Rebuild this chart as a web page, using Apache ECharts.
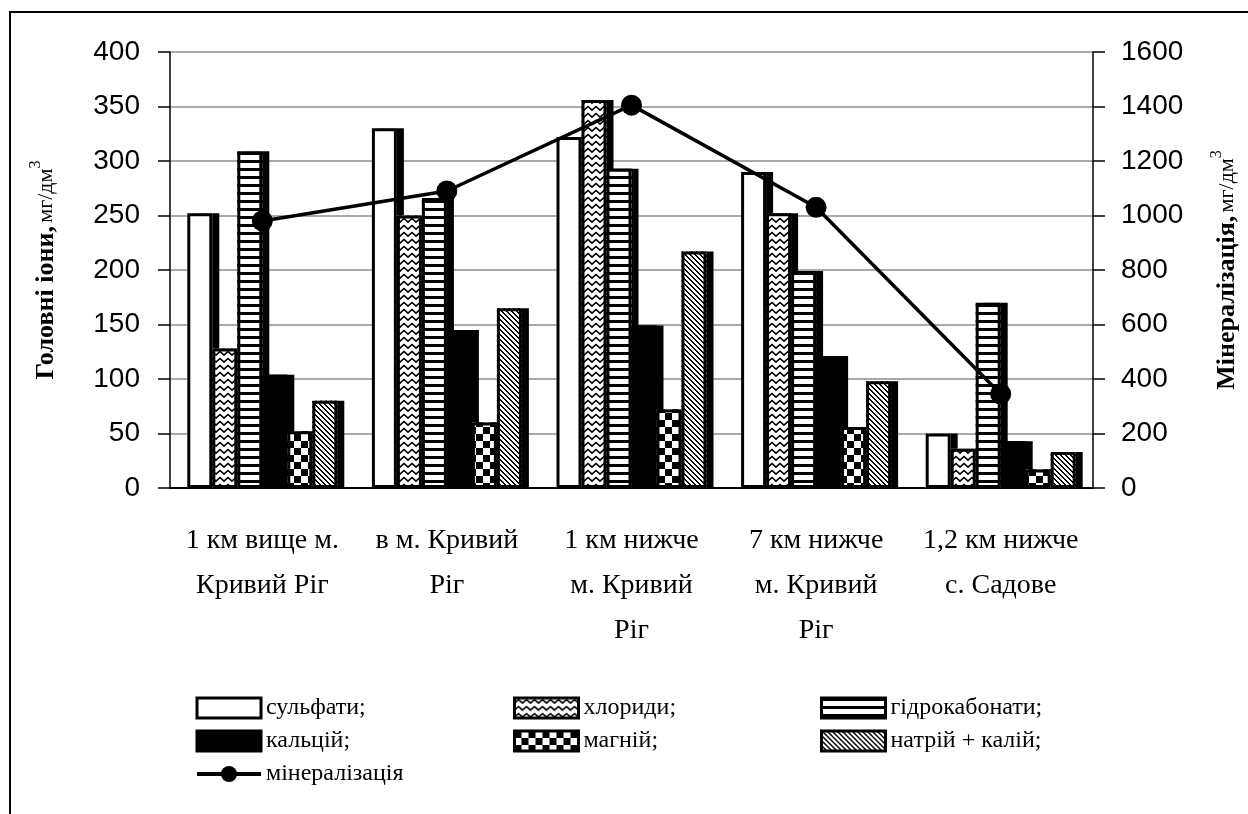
<!DOCTYPE html>
<html>
<head>
<meta charset="utf-8">
<script src="https://cdn.jsdelivr.net/npm/echarts@6/dist/echarts.min.js"></script>
<style>
  html, body { margin: 0; padding: 0; background: #fff; }
  #chart { width: 1248px; height: 814px; }
</style>
</head>
<body>
<div id="chart"></div>
<script>
// підписи категорій (як на рисунку, з переносами)
var categories = ['1 км вище м.\nКривий Ріг', 'в м. Кривий\nРіг', '1 км нижче\nм. Кривий\nРіг', '7 км нижче\nм. Кривий\nРіг', '1,2 км нижче\nс. Садове'];
// головні іони, мг/дм3
var sulfates = [252, 330, 322, 290, 50];
var chlorides = [128, 250, 356, 252, 36];
var bicarbonates = [309, 266, 293, 199, 170];
var calcium = [104, 145, 149, 121, 43];
var magnesium = [52, 60, 72, 56, 17];
var sodiumPotassium = [80, 165, 217, 98, 33];
// мінералізація, мг/дм3
var mineralization = [980, 1090, 1405, 1030, 345];

var leftTicks = { min: 0, max: 400, interval: 50 };
var rightTicks = { min: 0, max: 1600, interval: 200 };

// штрихування для стовпчиків
function makePattern(w, h, draw) {
    var c = document.createElement('canvas');
    c.width = w; c.height = h;
    var ctx = c.getContext('2d');
    ctx.fillStyle = '#fff';
    ctx.fillRect(0, 0, w, h);
    ctx.fillStyle = '#000';
    ctx.strokeStyle = '#000';
    draw(ctx, w, h);
    return { image: c, repeat: 'repeat' };
}
var zigzag = makePattern(8, 7, function (ctx) {
    ctx.lineWidth = 1.6;
    ctx.beginPath();
    ctx.moveTo(-1, 6); ctx.lineTo(4, 1.5); ctx.lineTo(9, 6);
    ctx.stroke();
});
var hstripes = makePattern(8, 8, function (ctx, w) {
    ctx.fillRect(0, 0, w, 3);
});
var checker = makePattern(14, 14, function (ctx) {
    ctx.fillRect(0, 0, 7, 7);
    ctx.fillRect(7, 7, 7, 7);
});
var diag = makePattern(5, 5, function (ctx, w, h) {
    for (var x = 0; x < w; x++) {
        for (var y = 0; y < h; y++) {
            var d = ((x - y) % 5 + 5) % 5;
            if (d < 2) ctx.fillRect(x, y, 1, 1);
        }
    }
});

// заливка з тінню (вісь 0) і окремо контур без тіні (прихована вісь 1)
function fillSeries(name, data, fill) {
    return {
        name: name, type: 'bar', data: data, xAxisIndex: 0,
        barWidth: 25, barGap: '0%',
        itemStyle: {
            color: fill, borderWidth: 0,
            shadowColor: '#000', shadowBlur: 0, shadowOffsetX: 7, shadowOffsetY: 0
        }
    };
}
function outlineSeries(name, data) {
    return {
        name: name + ' контур', type: 'bar', data: data, xAxisIndex: 1,
        barWidth: 25, barGap: '0%', z: 3, silent: true,
        itemStyle: { color: 'rgba(0,0,0,0)', borderColor: '#000', borderWidth: 3 }
    };
}

var serif = 'Liberation Serif';
var sans = 'Liberation Sans';
var legendBox = { borderColor: '#000', borderWidth: 3 };
var legendText = { fontFamily: serif, fontSize: 24, color: '#000', lineHeight: 24 };

var chart = echarts.init(document.getElementById('chart'));
var option = {
    animation: false,
    backgroundColor: '#fff',
    graphic: [{
        type: 'rect',
        shape: { x: 10, y: 12, width: 1300, height: 900 },
        style: { fill: 'none', stroke: '#000', lineWidth: 2 },
        silent: true
    }],
    grid: { left: 170, right: 151, top: 52, bottom: 326 },
    legend: [
        {
            left: 190, top: 691, orient: 'vertical', itemWidth: 64, itemHeight: 20, itemGap: 9,
            selectedMode: false, textStyle: legendText,
            data: [
                { name: 'сульфати;', icon: 'rect', itemStyle: legendBox },
                { name: 'кальцій;', icon: 'rect', itemStyle: legendBox },
                { name: 'мінералізація', lineStyle: { width: 4 } }
            ]
        },
        {
            left: 508, top: 691, orient: 'vertical', itemWidth: 64, itemHeight: 20, itemGap: 9,
            selectedMode: false, textStyle: legendText,
            data: [
                { name: 'хлориди;', icon: 'rect', itemStyle: legendBox },
                { name: 'магній;', icon: 'rect', itemStyle: legendBox }
            ]
        },
        {
            left: 815, top: 691, orient: 'vertical', itemWidth: 64, itemHeight: 20, itemGap: 9,
            selectedMode: false, textStyle: legendText,
            data: [
                { name: 'гідрокабонати;', icon: 'rect', itemStyle: legendBox },
                { name: 'натрій + калій;', icon: 'rect', itemStyle: legendBox }
            ]
        }
    ],
    xAxis: [
        {
            type: 'category',
            data: categories,
            axisLine: { lineStyle: { color: '#000', width: 2 } },
            axisTick: { length: 10, lineStyle: { color: '#000', width: 1.5 } },
            axisLabel: {
                interval: 0, margin: 30, color: '#000',
                fontFamily: serif, fontSize: 28, lineHeight: 45
            }
        },
        { type: 'category', data: categories, show: false }
    ],
    yAxis: [
        {
            type: 'value', min: leftTicks.min, max: leftTicks.max, interval: leftTicks.interval,
            name: '{b|Головні іони,} {n|мг/дм}{s|3}',
            nameLocation: 'middle', nameRotate: 90, nameGap: 106,
            nameTextStyle: {
                color: '#000',
                rich: {
                    b: { fontFamily: serif, fontWeight: 'bold', fontSize: 26, lineHeight: 36, color: '#000' },
                    n: { fontFamily: serif, fontSize: 22, color: '#000' },
                    s: { fontFamily: serif, fontSize: 16, lineHeight: 16, verticalAlign: 'top', color: '#000' }
                }
            },
            axisLine: { show: true, lineStyle: { color: '#000', width: 1.5 } },
            axisTick: { show: true, length: 12, lineStyle: { color: '#000', width: 1.5 } },
            axisLabel: { margin: 30, color: '#000', fontFamily: sans, fontSize: 28 },
            splitLine: { show: true, lineStyle: { color: '#8c8c8c', width: 1.5 } }
        },
        {
            type: 'value', position: 'right',
            min: rightTicks.min, max: rightTicks.max, interval: rightTicks.interval,
            name: '{b|Мінералізація,} {n|мг/дм}{s|3}',
            nameLocation: 'middle', nameRotate: 90, nameGap: 116,
            nameTextStyle: {
                color: '#000',
                rich: {
                    b: { fontFamily: serif, fontWeight: 'bold', fontSize: 26, lineHeight: 36, color: '#000' },
                    n: { fontFamily: serif, fontSize: 22, color: '#000' },
                    s: { fontFamily: serif, fontSize: 16, lineHeight: 16, verticalAlign: 'top', color: '#000' }
                }
            },
            axisLine: { show: true, lineStyle: { color: '#000', width: 1.5 } },
            axisTick: { show: true, length: 12, lineStyle: { color: '#000', width: 1.5 } },
            axisLabel: {
                margin: 28, color: '#000', fontFamily: sans, fontSize: 28,
                formatter: function (v) { return String(v); }
            },
            splitLine: { show: false }
        }
    ],
    series: [
        fillSeries('сульфати;', sulfates, '#fff'),
        fillSeries('хлориди;', chlorides, zigzag),
        fillSeries('гідрокабонати;', bicarbonates, hstripes),
        fillSeries('кальцій;', calcium, '#000'),
        fillSeries('магній;', magnesium, checker),
        fillSeries('натрій + калій;', sodiumPotassium, diag),
        outlineSeries('сульфати;', sulfates),
        outlineSeries('хлориди;', chlorides),
        outlineSeries('гідрокабонати;', bicarbonates),
        outlineSeries('кальцій;', calcium),
        outlineSeries('магній;', magnesium),
        outlineSeries('натрій + калій;', sodiumPotassium),
        {
            name: 'мінералізація',
            type: 'line',
            yAxisIndex: 1,
            data: mineralization,
            z: 5,
            symbol: 'circle',
            symbolSize: 21,
            lineStyle: { color: '#000', width: 3.5 },
            itemStyle: { color: '#000' }
        }
    ]
};
chart.setOption(option);
</script>
</body>
</html>
